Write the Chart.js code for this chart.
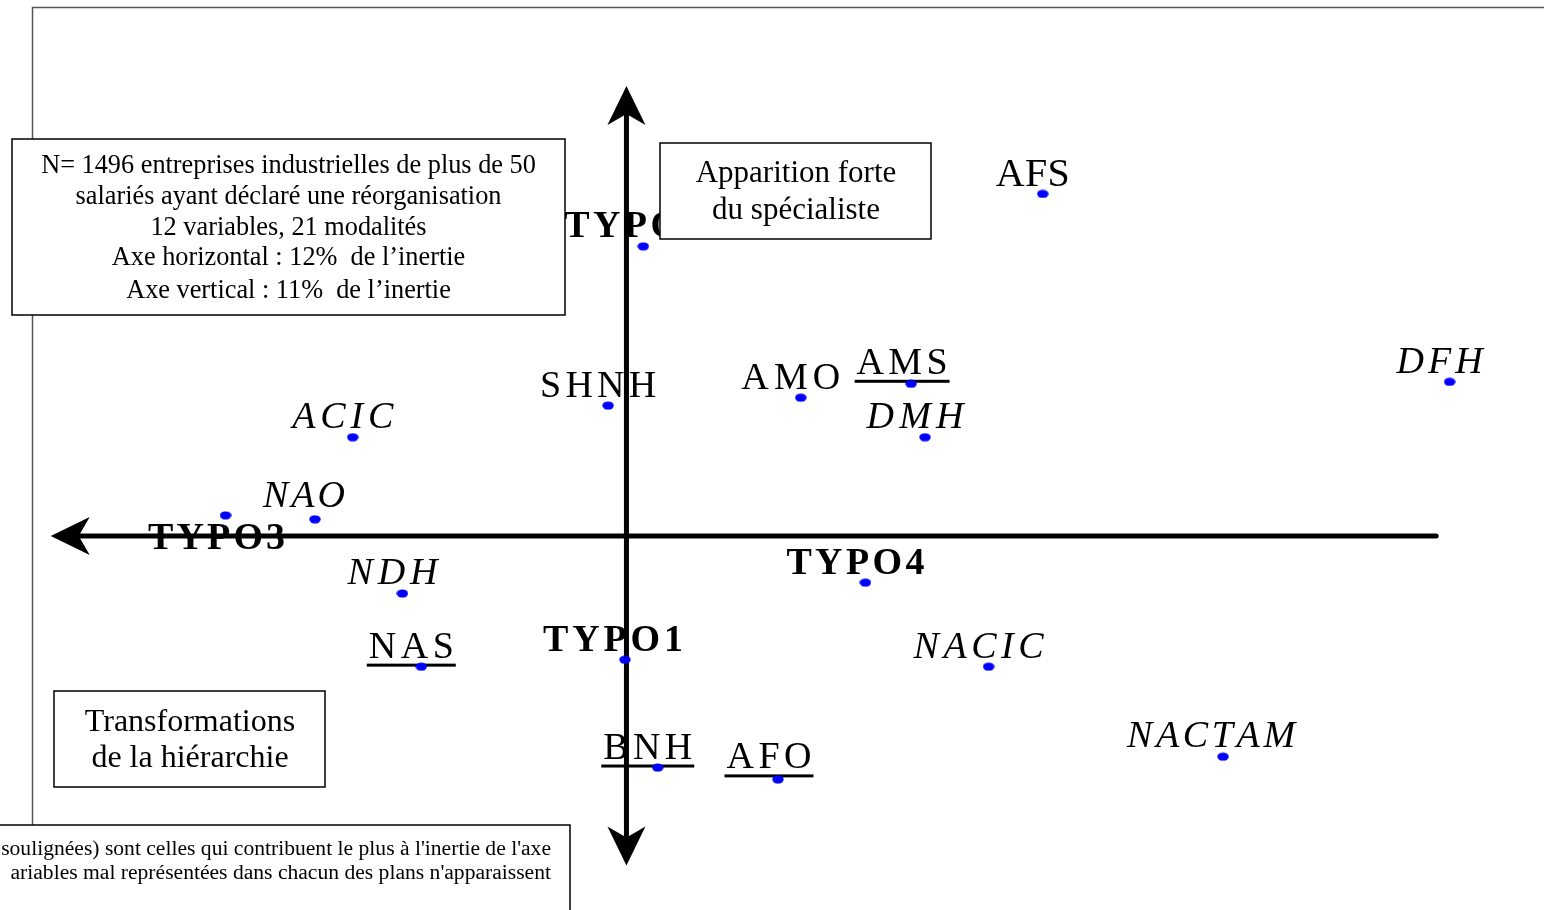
<!DOCTYPE html>
<html><head><meta charset="utf-8">
<script src="https://cdn.jsdelivr.net/npm/chart.js@4/dist/chart.umd.min.js"></script>
<style>html,body{margin:0;padding:0;background:#fff;overflow:hidden}canvas{display:block}</style>
</head><body>
<canvas id="c" width="1544" height="910"></canvas>
<script>
// ---- data: modalités on the first factorial plane ----
const modalites = ['TYPO2','AFS','SHNH','AMO','AMS','DMH','DFH','ACIC','NAO','TYPO3','NDH','TYPO4','NAS','TYPO1','NACIC','NACTAM','BNH','AFO'];
const axeHorizontal = [0.034,0.838,-0.037,0.351,0.573,0.601,1.657,-0.551,-0.627,-0.807,-0.451,0.481,-0.413,-0.003,0.729,1.201,0.063,0.305];
const axeVertical   = [0.586,0.692,0.264,0.280,0.308,0.200,0.312,0.200,0.034,0.042,-0.116,-0.094,-0.264,-0.250,-0.264,-0.446,-0.468,-0.492];
const typeModalite  = ['gras','droit','droit','droit','droit','italique','italique','italique','italique','gras','italique','gras','droit','gras','italique','italique','droit','droit'];
const soulignees    = ['AMS','NAS','BNH','AFO'];

const infoLignes = ['N= 1496 entreprises industrielles de plus de 50','salariés ayant déclaré une réorganisation','12 variables, 21 modalités','Axe horizontal : 12%  de l’inertie','Axe vertical : 11%  de l’inertie'];
const boite1 = ['Apparition forte','du spécialiste'];
const boite2 = ['Transformations','de la hiérarchie'];
const noteLignes = ["soulignées) sont celles qui contribuent le plus à l'inertie de l'axe","ariables mal représentées dans chacun des plans n'apparaissent"];

// ---- styles (not data) ----
const FONT = '"Liberation Serif","Times New Roman",serif';
const fontFor = {gras:'bold 38px '+FONT, droit:'38px '+FONT, italique:'italic 38px '+FONT};
const fontOverride = {AFS:'40px '+FONT};
const labelWidth = {TYPO2:138,AFS:74,SHNH:116,AMO:99,AMS:91,DMH:97,DFH:86,ACIC:101,NAO:82,TYPO3:137,NDH:90,TYPO4:138,NAS:85,TYPO1:140,NACIC:130,NACTAM:168,BNH:89,AFO:85};
const labelOffset = {def:[-10,-9], TYPO3:[-9,34], NAO:[-11,-12], AFO:[-9,-11], AMS:[-9,-10], NACTAM:[-12,-10], TYPO1:[-12,-9], AFS:[-10,-8]};

const dot = document.createElement('canvas'); dot.width = 12; dot.height = 9;
(function(){const d=dot.getContext('2d');d.fillStyle='#0000ff';d.beginPath();d.ellipse(6,4.5,5.7,4.1,0,0,Math.PI*2);d.fill();})();

function spacedText(ctx, txt, left, base, width){
  let nat = 0; const ws = [];
  for (const ch of txt){ const w = ctx.measureText(ch).width; ws.push(w); nat += w; }
  const s = txt.length > 1 ? (width - nat) / (txt.length - 1) : 0;
  let x = left; let i = 0;
  for (const ch of txt){ ctx.fillText(ch, x, base); x += ws[i++] + s; }
  return x - s;
}

function arrowHead(ctx, tx, ty, dx, dy){
  const L = 39, H = 19, N = 11;
  const px = -dy, py = dx;
  ctx.beginPath();
  ctx.moveTo(tx, ty);
  ctx.lineTo(tx + dx*L + px*H, ty + dy*L + py*H);
  ctx.lineTo(tx + dx*(L-N), ty + dy*(L-N));
  ctx.lineTo(tx + dx*L - px*H, ty + dy*L - py*H);
  ctx.closePath(); ctx.fill();
}

function box(ctx, x1, y1, x2, y2){
  ctx.fillStyle = '#fff'; ctx.fillRect(x1, y1, x2-x1, y2-y1);
  ctx.strokeStyle = '#000'; ctx.lineWidth = 1.5; ctx.strokeRect(x1, y1, x2-x1, y2-y1);
}

const mapPlugin = {
  id: 'planFactoriel',
  beforeDatasetsDraw(chart){
    const ctx = chart.ctx, xs = chart.scales.x, ys = chart.scales.y;
    ctx.save();
    // frame
    ctx.strokeStyle = '#555'; ctx.lineWidth = 1.5;
    ctx.beginPath(); ctx.moveTo(32.5, 905); ctx.lineTo(32.5, 7.5); ctx.lineTo(1544, 7.5); ctx.stroke();
    // labels
    ctx.fillStyle = '#000'; ctx.textBaseline = 'alphabetic'; ctx.textAlign = 'left';
    modalites.forEach((m, i) => {
      const px = xs.getPixelForValue(axeHorizontal[i]), py = ys.getPixelForValue(axeVertical[i]);
      const off = labelOffset[m] || labelOffset.def;
      const w = labelWidth[m];
      const left = px + off[0] - w/2, base = py + off[1];
      ctx.font = fontOverride[m] || fontFor[typeModalite[i]];
      spacedText(ctx, m, left, base, w);
      if (soulignees.includes(m)) {
        ctx.fillRect(left - 2, base + 6, w + 4, 3);
      }
    });
    // axes
    const x0 = xs.getPixelForValue(0), y0 = ys.getPixelForValue(0);
    ctx.strokeStyle = '#000'; ctx.fillStyle = '#000'; ctx.lineWidth = 5; ctx.lineCap = 'round';
    const hl = xs.getPixelForValue(-1.159), hr = xs.getPixelForValue(1.63);
    ctx.beginPath(); ctx.moveTo(hl + 25, y0); ctx.lineTo(hr, y0); ctx.stroke();
    arrowHead(ctx, hl, y0, 1, 0);
    const vt = ys.getPixelForValue(0.91), vb = ys.getPixelForValue(-0.666);
    ctx.lineCap = 'butt';
    ctx.beginPath(); ctx.moveTo(x0, vt + 25); ctx.lineTo(x0, vb - 25); ctx.stroke();
    arrowHead(ctx, x0, vt, 0, 1);
    arrowHead(ctx, x0, vb, 0, -1);
    ctx.restore();
  },
  afterDatasetsDraw(chart){
    const ctx = chart.ctx;
    ctx.save();
    // info box
    box(ctx, 12, 139, 565, 315);
    ctx.fillStyle = '#000'; ctx.textAlign = 'center'; ctx.font = '26.3px ' + FONT;
    [173, 204, 235, 265, 298].forEach((b, i) => ctx.fillText(infoLignes[i], 288.5, b));
    // Apparition forte
    box(ctx, 660, 143, 931, 239);
    ctx.fillStyle = '#000'; ctx.font = '31px ' + FONT;
    ctx.fillText(boite1[0], 796, 182); ctx.fillText(boite1[1], 796, 219);
    // Transformations
    box(ctx, 54, 691, 325, 787);
    ctx.fillStyle = '#000'; ctx.font = '32px ' + FONT;
    ctx.fillText(boite2[0], 190, 731); ctx.fillText(boite2[1], 190, 767);
    // note
    box(ctx, -5, 825, 570, 920);
    ctx.fillStyle = '#000'; ctx.font = '21.6px ' + FONT; ctx.textAlign = 'right';
    ctx.fillText(noteLignes[0], 551, 855);
    ctx.fillText(noteLignes[1], 551, 879);
    ctx.restore();
  }
};

new Chart(document.getElementById('c'), {
  type: 'scatter',
  data: { datasets: [{
    label: 'Modalités',
    data: modalites.map((m, i) => ({x: axeHorizontal[i], y: axeVertical[i]})),
    pointStyle: dot, pointRadius: 5, pointHoverRadius: 5,
    backgroundColor: '#0000ff', borderWidth: 0
  }]},
  options: {
    responsive: false, animation: false, devicePixelRatio: 1,
    layout: { padding: 0 },
    plugins: { legend: {display: false}, tooltip: {enabled: false}, title: {display: false} },
    scales: {
      x: { type: 'linear', display: false, min: -1.251, max: 1.837 },
      y: { type: 'linear', display: false, min: -0.746, max: 1.074 }
    }
  },
  plugins: [mapPlugin]
});
</script>
</body></html>
